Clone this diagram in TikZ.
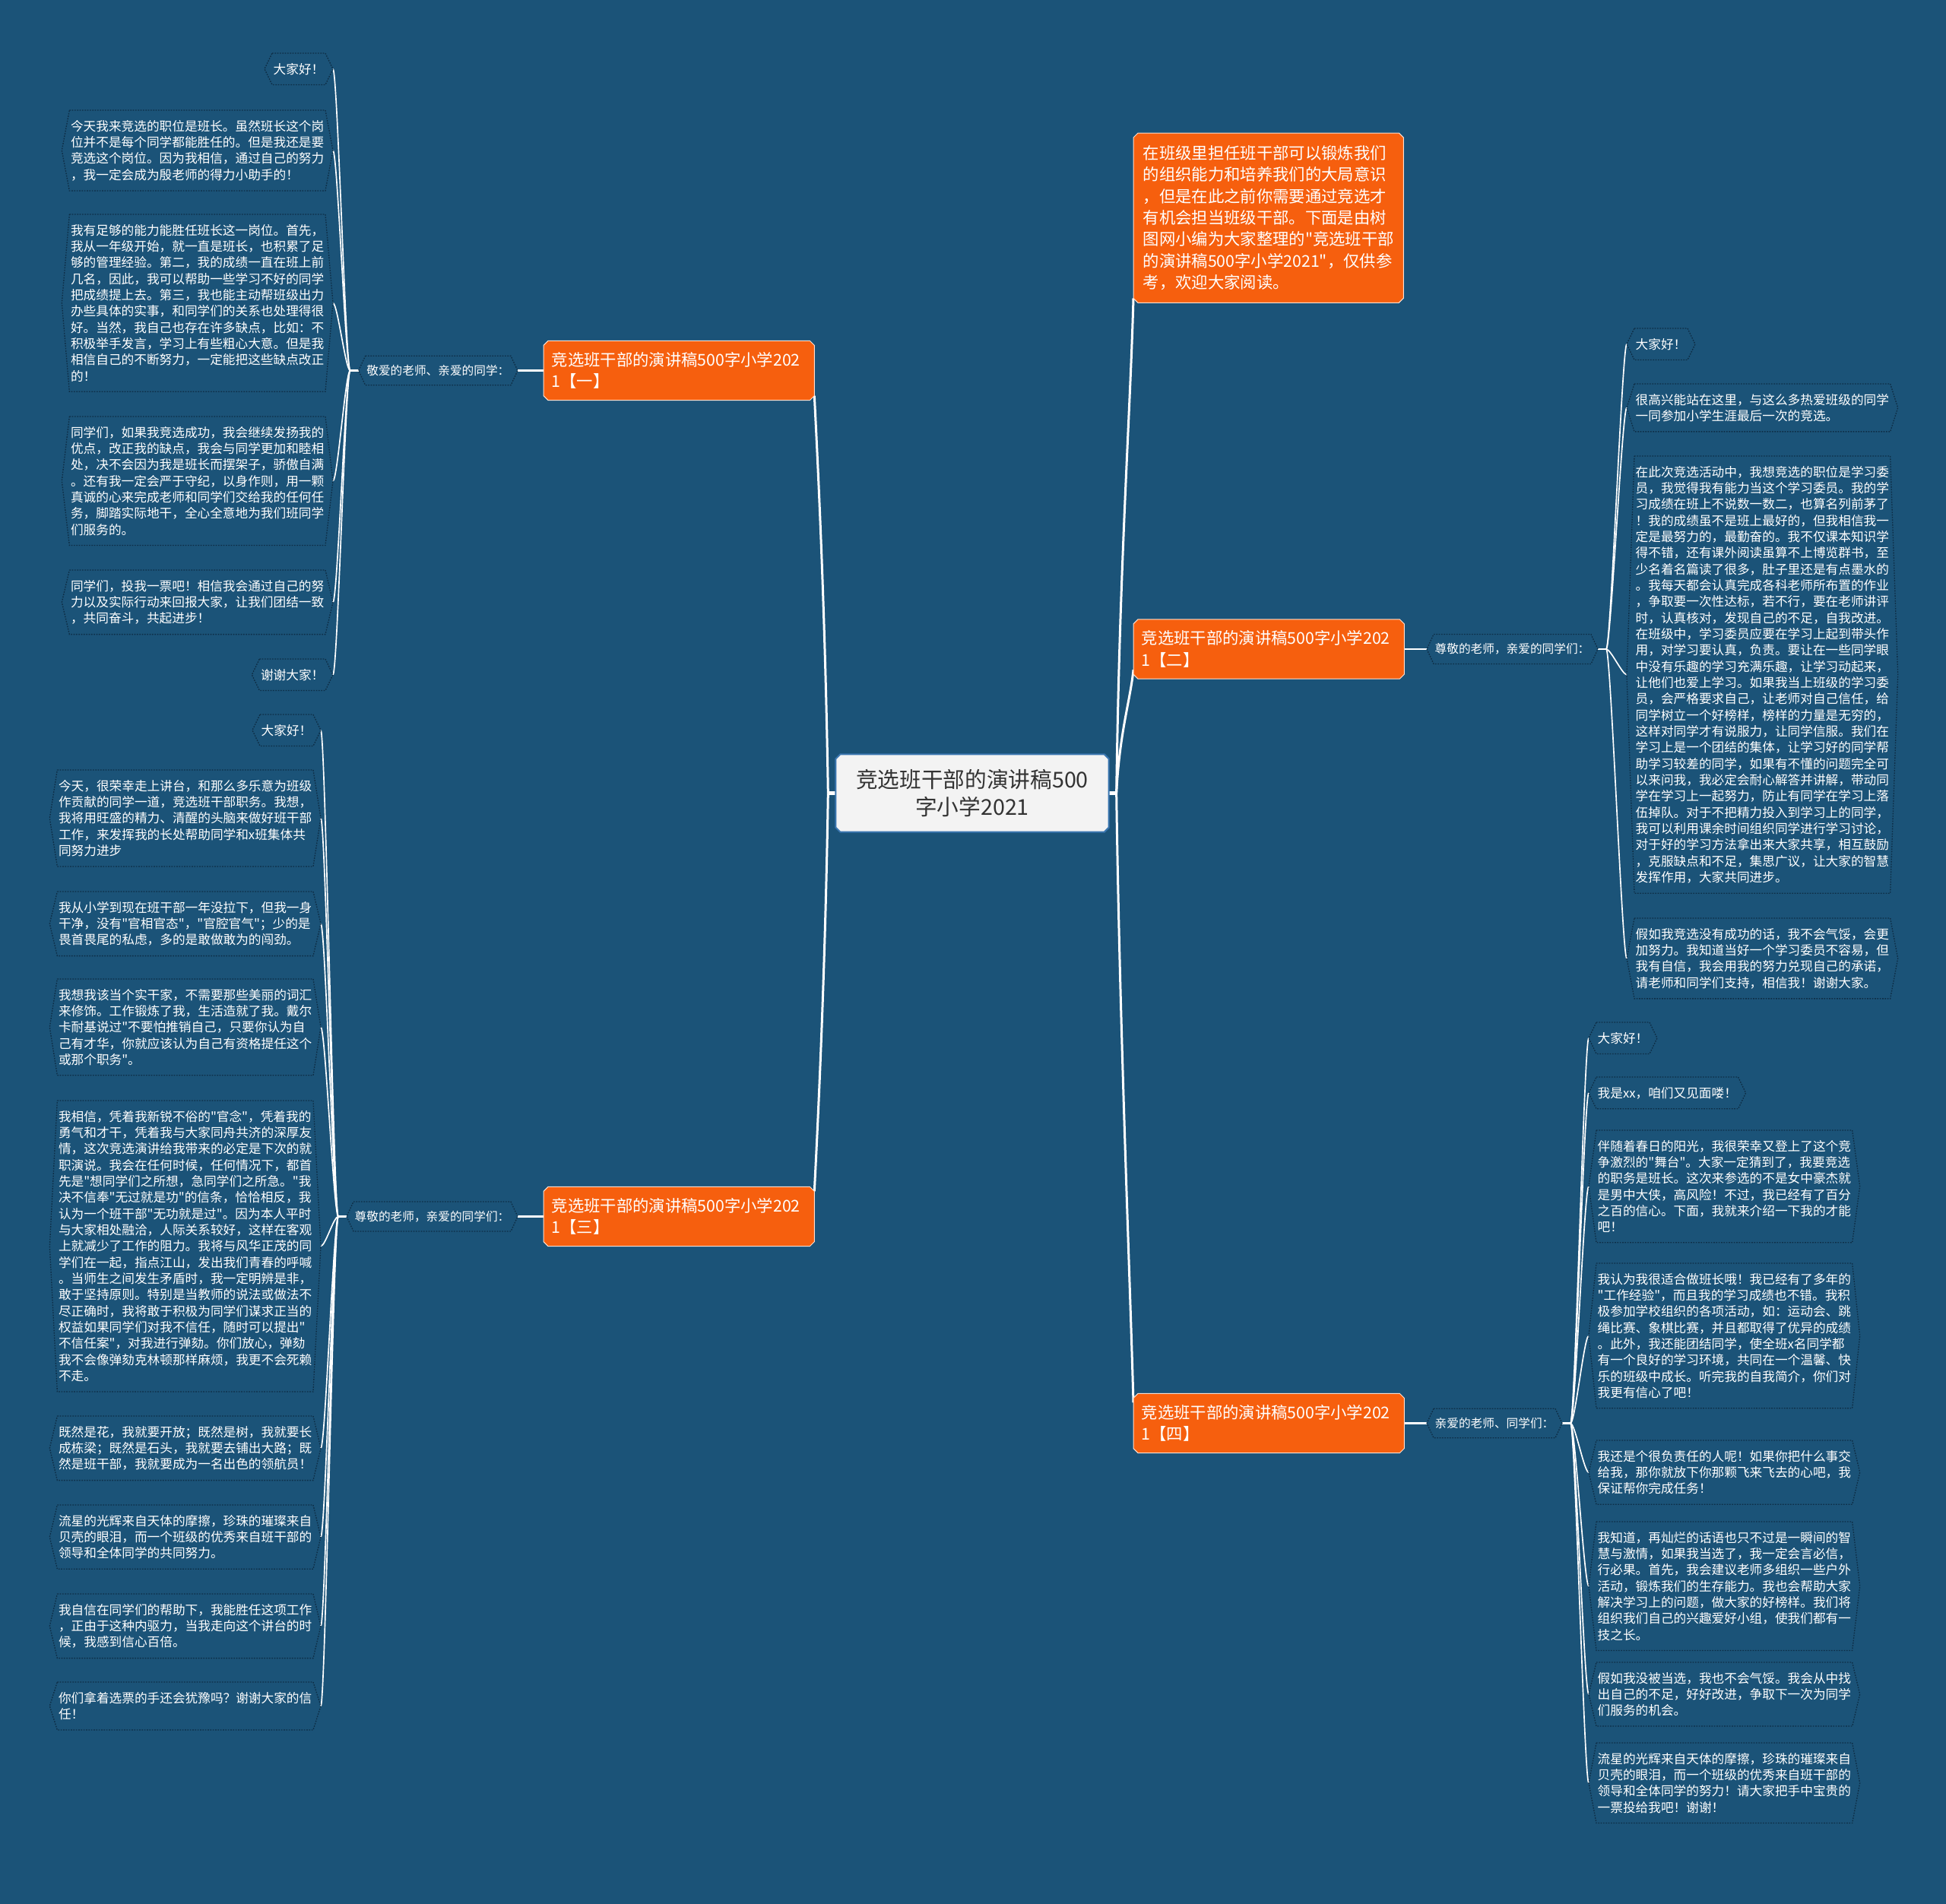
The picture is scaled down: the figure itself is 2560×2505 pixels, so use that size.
\documentclass[tikz,border=0pt]{standalone}
\usepackage{fontspec}
\setmainfont{Noto Sans CJK SC}[Ligatures=TeXOff]
\usetikzlibrary{calc}
\definecolor{bgc}{HTML}{1B5378}
\definecolor{orng}{HTML}{F65F0E}
\definecolor{hexc}{HTML}{0E2E46}
\definecolor{cbord}{HTML}{3A76B0}
\definecolor{cfill}{HTML}{F3F3F3}
\definecolor{ctext}{HTML}{333333}
\pgfdeclarelayer{back}
\pgfdeclarelayer{mid}
\pgfsetlayers{back,mid,main}
\newcommand\myhex[2][10]{\draw[hexline] (#2.north west) -- (#2.north east) -- ($(#2.east)+(#1,0)$) -- (#2.south east) -- (#2.south west) -- ($(#2.west)+(-#1,0)$) -- cycle;}
\newcommand\mycham[3]{\draw[#3] ($(#1.north west)+(#2,0)$) -- ($(#1.north east)+(-#2,0)$) -- ($(#1.north east)+(0,#2)$) -- ($(#1.south east)+(0,-#2)$) -- ($(#1.south east)+(-#2,0)$) -- ($(#1.south west)+(#2,0)$) -- ($(#1.south west)+(0,-#2)$) -- ($(#1.north west)+(0,#2)$) -- cycle;}
\tikzset{
 leaf/.style={font=\fontsize{5}{6.4}\selectfont, text=white, align=left, inner xsep=0.3pt, inner ysep=3.7pt},
 midl/.style={font=\fontsize{4.7}{5.6}\selectfont, text=white, inner xsep=0.3pt, inner ysep=3.4pt},
 branch/.style={font=\fontsize{6.4}{8.55}\selectfont, text=white, align=left, text width=100.5pt, inner xsep=3pt, inner ysep=0pt, minimum height=23.1pt},
 intro/.style={font=\fontsize{6.4}{8.5}\selectfont, text=white, align=left, text width=99pt, inner xsep=3.6pt, inner ysep=0pt, minimum height=66.6pt},
 center/.style={font=\fontsize{8.6}{10.8}\selectfont, text=ctext, align=center, minimum width=107.4pt, minimum height=30.3pt, inner sep=0pt},
 hexline/.style={draw=hexc, line width=0.4pt, dash pattern=on 0.5pt off 0.5pt},
 mainln/.style={draw=white, line width=0.9pt},
 subln/.style={draw=white, line width=0.75pt},
 leafln/.style={draw=white, line width=0.5pt},
}
\begin{document}
\begin{tikzpicture}[x=0.3pt,y=-0.3pt]
\begin{pgfonlayer}{back}
\fill[bgc] (0,0) rectangle (2560,2505);
\end{pgfonlayer}
\useasboundingbox (0,0) rectangle (2560,2505);

% center and branches
\node[center] (ctr) at (1279,1043.5) {竞选班干部的演讲稿500\\字小学2021};
\node[intro, anchor=north west] (intro) at (1491,175) {在班级里担任班干部可以锻炼我们\\的组织能力和培养我们的大局意识\\，但是在此之前你需要通过竞选才\\有机会担当班级干部。下面是由树\\图网小编为大家整理的"竞选班干部\\的演讲稿500字小学2021"，仅供参\\考，欢迎大家阅读。};
\node[branch, anchor=west] (br1) at (715,487.5) {竞选班干部的演讲稿500字小学202\\1【一】};
\node[branch, anchor=west] (br3) at (715,1600.5) {竞选班干部的演讲稿500字小学202\\1【三】};
\node[branch, anchor=west] (br2) at (1491,854) {竞选班干部的演讲稿500字小学202\\1【二】};
\node[branch, anchor=west] (br4) at (1491,1872.5) {竞选班干部的演讲稿500字小学202\\1【四】};

% mid labels
\node[midl, anchor=east] (m1) at (672,487.5) {敬爱的老师、亲爱的同学：};
\node[midl, anchor=east] (m3) at (672,1600.5) {尊敬的老师，亲爱的同学们：};
\node[midl, anchor=west] (m2) at (1886,854) {尊敬的老师，亲爱的同学们：};
\node[midl, anchor=west] (m4) at (1886,1872.5) {亲爱的老师、同学们：};
\coordinate (h1) at ($(m1.west)+(-20,0)$);
\coordinate (h3) at ($(m3.west)+(-20,0)$);
\coordinate (h2) at ($(m2.east)+(20,0)$);
\coordinate (h4) at ($(m4.east)+(20,0)$);

% leaves branch 1
\node[leaf, anchor=north east] (a1) at (428,70) {大家好！};
\node[leaf, anchor=north east] (a2) at (428,145) {今天我来竞选的职位是班长。虽然班长这个岗\\位并不是每个同学都能胜任的。但是我还是要\\竞选这个岗位。因为我相信，通过自己的努力\\，我一定会成为殷老师的得力小助手的！};
\node[leaf, anchor=north east] (a3) at (428,282) {我有足够的能力能胜任班长这一岗位。首先，\\我从一年级开始，就一直是班长，也积累了足\\够的管理经验。第二，我的成绩一直在班上前\\几名，因此，我可以帮助一些学习不好的同学\\把成绩提上去。第三，我也能主动帮班级出力\\办些具体的实事，和同学们的关系也处理得很\\好。当然，我自己也存在许多缺点，比如：不\\积极举手发言，学习上有些粗心大意。但是我\\相信自己的不断努力，一定能把这些缺点改正\\的！};
\node[leaf, anchor=north east] (a4) at (428,548) {同学们，如果我竞选成功，我会继续发扬我的\\优点，改正我的缺点，我会与同学更加和睦相\\处，决不会因为我是班长而摆架子，骄傲自满\\。还有我一定会严于守纪，以身作则，用一颗\\真诚的心来完成老师和同学们交给我的任何任\\务，脚踏实际地干，全心全意地为我们班同学\\们服务的。};
\node[leaf, anchor=north east] (a5) at (428,750) {同学们，投我一票吧！相信我会通过自己的努\\力以及实际行动来回报大家，让我们团结一致\\，共同奋斗，共起进步！};
\node[leaf, anchor=north east] (a6) at (428,867) {谢谢大家！};

% leaves branch 3
\node[leaf, anchor=north east] (c1) at (412,940) {大家好！};
\node[leaf, anchor=north east] (c2) at (412,1013) {今天，很荣幸走上讲台，和那么多乐意为班级\\作贡献的同学一道，竞选班干部职务。我想，\\我将用旺盛的精力、清醒的头脑来做好班干部\\工作，来发挥我的长处帮助同学和x班集体共\\同努力进步};
\node[leaf, anchor=north east] (c3) at (412,1173) {我从小学到现在班干部一年没拉下，但我一身\\干净，没有"官相官态"，"官腔官气"；少的是\\畏首畏尾的私虑，多的是敢做敢为的闯劲。};
\node[leaf, anchor=north east] (c4) at (412,1288) {我想我该当个实干家，不需要那些美丽的词汇\\来修饰。工作锻炼了我，生活造就了我。戴尔\\卡耐基说过"不要怕推销自己，只要你认为自\\己有才华，你就应该认为自己有资格提任这个\\或那个职务"。};
\node[leaf, anchor=north east] (c5) at (412,1448) {我相信，凭着我新锐不俗的"官念"，凭着我的\\勇气和才干，凭着我与大家同舟共济的深厚友\\情，这次竞选演讲给我带来的必定是下次的就\\职演说。我会在任何时候，任何情况下，都首\\先是"想同学们之所想，急同学们之所急。"我\\决不信奉"无过就是功"的信条，恰恰相反，我\\认为一个班干部"无功就是过"。因为本人平时\\与大家相处融洽，人际关系较好，这样在客观\\上就减少了工作的阻力。我将与风华正茂的同\\学们在一起，指点江山，发出我们青春的呼喊\\。当师生之间发生矛盾时，我一定明辨是非，\\敢于坚持原则。特别是当教师的说法或做法不\\尽正确时，我将敢于积极为同学们谋求正当的\\权益如果同学们对我不信任，随时可以提出"\\不信任案"，对我进行弹劾。你们放心，弹劾\\我不会像弹劾克林顿那样麻烦，我更不会死赖\\不走。};
\node[leaf, anchor=north east] (c6) at (412,1863) {既然是花，我就要开放；既然是树，我就要长\\成栋梁；既然是石头，我就要去铺出大路；既\\然是班干部，我就要成为一名出色的领航员！};
\node[leaf, anchor=north east] (c7) at (412,1980) {流星的光辉来自天体的摩擦，珍珠的璀璨来自\\贝壳的眼泪，而一个班级的优秀来自班干部的\\领导和全体同学的共同努力。};
\node[leaf, anchor=north east] (c8) at (412,2097) {我自信在同学们的帮助下，我能胜任这项工作\\，正由于这种内驱力，当我走向这个讲台的时\\候，我感到信心百倍。};
\node[leaf, anchor=north east] (c9) at (412,2213) {你们拿着选票的手还会犹豫吗？谢谢大家的信\\任！};

% leaves branch 2
\node[leaf, anchor=north west] (b1) at (2150,432) {大家好！};
\node[leaf, anchor=north west] (b2) at (2150,505) {很高兴能站在这里，与这么多热爱班级的同学\\一同参加小学生涯最后一次的竞选。};
\node[leaf, anchor=north west] (b3) at (2150,600) {在此次竞选活动中，我想竞选的职位是学习委\\员，我觉得我有能力当这个学习委员。我的学\\习成绩在班上不说数一数二，也算名列前茅了\\！我的成绩虽不是班上最好的，但我相信我一\\定是最努力的，最勤奋的。我不仅课本知识学\\得不错，还有课外阅读虽算不上博览群书，至\\少名着名篇读了很多，肚子里还是有点墨水的\\。我每天都会认真完成各科老师所布置的作业\\，争取要一次性达标，若不行，要在老师讲评\\时，认真核对，发现自己的不足，自我改进。\\在班级中，学习委员应要在学习上起到带头作\\用，对学习要认真，负责。要让在一些同学眼\\中没有乐趣的学习充满乐趣，让学习动起来，\\让他们也爱上学习。如果我当上班级的学习委\\员，会严格要求自己，让老师对自己信任，给\\同学树立一个好榜样，榜样的力量是无穷的，\\这样对同学才有说服力，让同学信服。我们在\\学习上是一个团结的集体，让学习好的同学帮\\助学习较差的同学，如果有不懂的问题完全可\\以来问我，我必定会耐心解答并讲解，带动同\\学在学习上一起努力，防止有同学在学习上落\\伍掉队。对于不把精力投入到学习上的同学，\\我可以利用课余时间组织同学进行学习讨论，\\对于好的学习方法拿出来大家共享，相互鼓励\\，克服缺点和不足，集思广议，让大家的智慧\\发挥作用，大家共同进步。};
\node[leaf, anchor=north west] (b4) at (2150,1208) {假如我竞选没有成功的话，我不会气馁，会更\\加努力。我知道当好一个学习委员不容易，但\\我有自信，我会用我的努力兑现自己的承诺，\\请老师和同学们支持，相信我！谢谢大家。};

% leaves branch 4
\node[leaf, anchor=north west] (d1) at (2100,1345) {大家好！};
\node[leaf, anchor=north west] (d2) at (2100,1417) {我是xx，咱们又见面喽！};
\node[leaf, anchor=north west] (d3) at (2100,1487) {伴随着春日的阳光，我很荣幸又登上了这个竞\\争激烈的"舞台"。大家一定猜到了，我要竞选\\的职务是班长。这次来参选的不是女中豪杰就\\是男中大侠，高风险！不过，我已经有了百分\\之百的信心。下面，我就来介绍一下我的才能\\吧！};
\node[leaf, anchor=north west] (d4) at (2100,1662) {我认为我很适合做班长哦！我已经有了多年的\\"工作经验"，而且我的学习成绩也不错。我积\\极参加学校组织的各项活动，如：运动会、跳\\绳比赛、象棋比赛，并且都取得了优异的成绩\\。此外，我还能团结同学，使全班x名同学都\\有一个良好的学习环境，共同在一个温馨、快\\乐的班级中成长。听完我的自我简介，你们对\\我更有信心了吧！};
\node[leaf, anchor=north west] (d5) at (2100,1895) {我还是个很负责任的人呢！如果你把什么事交\\给我，那你就放下你那颗飞来飞去的心吧，我\\保证帮你完成任务！};
\node[leaf, anchor=north west] (d6) at (2100,2002) {我知道，再灿烂的话语也只不过是一瞬间的智\\慧与激情，如果我当选了，我一定会言必信，\\行必果。首先，我会建议老师多组织一些户外\\活动，锻炼我们的生存能力。我也会帮助大家\\解决学习上的问题，做大家的好榜样。我们将\\组织我们自己的兴趣爱好小组，使我们都有一\\技之长。};
\node[leaf, anchor=north west] (d7) at (2100,2187) {假如我没被当选，我也不会气馁。我会从中找\\出自己的不足，好好改进，争取下一次为同学\\们服务的机会。};
\node[leaf, anchor=north west] (d8) at (2100,2293) {流星的光辉来自天体的摩擦，珍珠的璀璨来自\\贝壳的眼泪，而一个班级的优秀来自班干部的\\领导和全体同学的努力！请大家把手中宝贵的\\一票投给我吧！谢谢！};

% hex outlines
\foreach \n in {a1,a2,a3,a4,a5,a6,c1,c2,c3,c4,c5,c6,c7,c8,c9,b1,b2,b3,b4,d1,d2,d3,d4,d5,d6,d7,d8} {\myhex{\n}}
\foreach \n in {m1,m2,m3,m4} {\myhex[9]{\n}}

\begin{pgfonlayer}{mid}
% main connectors
\coordinate (L) at ($(ctr.west)+(-10,0)$);
\coordinate (R) at ($(ctr.east)+(10,0)$);
\draw[white, line width=1.3pt] (ctr.west) -- (L);
\draw[white, line width=1.3pt] (ctr.east) -- (R);
\draw[mainln] (L) .. controls +(-4,-250) and +(4,80) .. ($(br1.south east)+(0,-6)$);
\draw[mainln] (L) .. controls +(-4,250) and +(4,-80) .. ($(br3.north east)+(0,6)$);
\draw[mainln] (R) .. controls +(4,-300) and +(-4,150) .. ($(intro.south west)+(0,-6)$);
\draw[mainln] (R) .. controls +(4,-80) and +(-4,40) .. ($(br2.south west)+(0,-12)$);
\draw[mainln] (R) .. controls +(4,300) and +(-4,-150) .. ($(br4.north west)+(0,12)$);
% branch to mid labels
\draw[subln] (br1.west) -- ($(m1.east)+(9,0)$);
\draw[subln] (br3.west) -- ($(m3.east)+(9,0)$);
\draw[subln] (br2.east) -- ($(m2.west)+(-9,0)$);
\draw[subln] (br4.east) -- ($(m4.west)+(-9,0)$);
\draw[subln] ($(m1.west)+(-9,0)$) -- (h1);
\draw[subln] ($(m3.west)+(-9,0)$) -- (h3);
\draw[subln] ($(m2.east)+(9,0)$) -- (h2);
\draw[subln] ($(m4.east)+(9,0)$) -- (h4);
% leaf connectors
\foreach \n in {a1,a2,a3,a4,a5,a6} {\draw[leafln] (h1) .. controls +(-6,0) and +(6,0) .. ($(\n.east)+(10,0)$);}
\foreach \n in {c1,c2,c3,c4,c5,c6,c7,c8,c9} {\draw[leafln] (h3) .. controls +(-6,0) and +(6,0) .. ($(\n.east)+(10,0)$);}
\foreach \n in {b1,b2,b3,b4} {\draw[leafln] (h2) .. controls +(6,0) and +(-6,0) .. ($(\n.west)+(-10,0)$);}
\foreach \n in {d1,d2,d3,d4,d5,d6,d7,d8} {\draw[leafln] (h4) .. controls +(6,0) and +(-6,0) .. ($(\n.west)+(-10,0)$);}
% filled boxes
\mycham{ctr}{6}{fill=cfill, draw=cbord, line width=0.6pt}
\mycham{intro}{6}{fill=orng, draw=white!80!orng, line width=0.3pt}
\mycham{br1}{6}{fill=orng, draw=white!80!orng, line width=0.3pt}
\mycham{br2}{6}{fill=orng, draw=white!80!orng, line width=0.3pt}
\mycham{br3}{6}{fill=orng, draw=white!80!orng, line width=0.3pt}
\mycham{br4}{6}{fill=orng, draw=white!80!orng, line width=0.3pt}
\end{pgfonlayer}
\end{tikzpicture}
\end{document}
